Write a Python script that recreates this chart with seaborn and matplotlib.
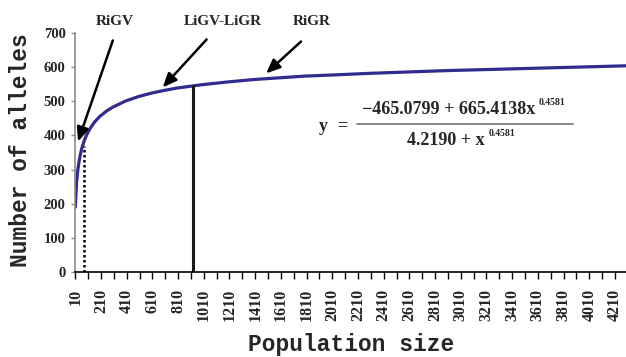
import matplotlib
matplotlib.use("Agg")
import matplotlib.pyplot as plt
import seaborn as sns
import pandas as pd
from matplotlib.ticker import FixedLocator

# Allele accumulation as population size grows
population = [10, 20, 30, 40, 50, 60, 80, 100, 130, 160, 200, 250, 300, 400, 500,
              600, 700, 800, 900, 1000, 1200, 1400, 1600, 1800, 2000, 2300, 2600,
              2900, 3200, 3500, 3800, 4100, 4296]
alleles = [190, 265, 300, 326, 345, 361, 385, 403, 423, 439, 455, 470, 482, 500, 513,
           523, 531, 538, 543, 548, 556, 563, 568, 573, 576, 581, 585, 589, 592, 595,
           598, 601, 603]

xtick_labels = list(range(10, 4211, 200))
minor_ticks = list(range(110, 4296, 200))
ytick_values = list(range(0, 701, 100))

# Marked population sizes: RiGV (dotted) and the LiGV-LiGR threshold (solid)
rigv_size, rigv_alleles = 80, 370
ligv_size, ligv_alleles = 928, 545

# Arrow annotations: label, label position, arrow tail, arrow head
labels = ["RiGV", "LiGV-LiGR", "RiGR"]
label_x = [318, 1156, 1854]
label_y = 731
arrow_tail = [(302, 677), (1032, 680), (1767, 674)]
arrow_head = [(31, 382), (690, 540), (1495, 581)]

sns.set_theme(style="white")
plt.rcParams["font.family"] = ["Liberation Serif", "DejaVu Serif"]

fig = plt.figure(figsize=(6.26, 3.57), dpi=100)
ax = fig.add_axes([0.1203, 0.2373, 1 - 0.1203, 0.9087 - 0.2373])

df = pd.DataFrame({"Population size": population, "Number of alleles": alleles})
sns.lineplot(data=df, x="Population size", y="Number of alleles", ax=ax,
             color="#312b90", linewidth=2.3)

ax.plot([rigv_size, rigv_size], [0, rigv_alleles], color="black",
        linestyle=(0, (1, 1)), linewidth=1.8)
ax.plot([ligv_size, ligv_size], [0, ligv_alleles], color="#1a1a1a", linewidth=2.2)

ax.set_xlim(10, 4296)
ax.set_ylim(0, 700)

ax.xaxis.set_major_locator(FixedLocator(xtick_labels))
ax.xaxis.set_minor_locator(FixedLocator(minor_ticks))
ax.set_xticklabels([str(v) for v in xtick_labels], rotation=90,
                   fontsize=11.5, fontweight="bold", family="Liberation Serif")
ax.set_yticks(ytick_values)
ax.set_yticklabels([str(v) for v in ytick_values], fontsize=10.5,
                   fontweight="bold", family="Liberation Serif")

ax.tick_params(axis="x", which="both", direction="out", length=5, width=1,
               color="black", bottom=True, pad=7)
ax.tick_params(axis="y", which="both", direction="out", length=3, width=1,
               color="#8a8a8a", left=True, pad=4)

for side in ["top", "right"]:
    ax.spines[side].set_visible(False)
ax.spines["left"].set_color("#8a8a8a")
ax.spines["left"].set_linewidth(1.2)
ax.spines["bottom"].set_color("black")
ax.spines["bottom"].set_linewidth(1.2)

ax.set_xlabel("Population size", family="Liberation Mono", fontweight="bold",
              fontsize=16.5)
ax.set_ylabel("Number of alleles", family="Liberation Mono", fontweight="bold",
              fontsize=16.5)
ax.xaxis.set_label_coords(0.5, -0.252)
ax.yaxis.set_label_coords(-0.078, 0.51)

for lab, lx, tail, head in zip(labels, label_x, arrow_tail, arrow_head):
    ax.text(lx, label_y, lab, ha="center", va="center", fontsize=11,
            fontweight="bold", family="Liberation Serif")
    ax.annotate("", xy=head, xytext=tail,
                arrowprops=dict(arrowstyle="-|>,head_length=0.7,head_width=0.3",
                                mutation_scale=12, color="black", lw=1.8,
                                shrinkA=0, shrinkB=0))

# Fitted curve equation
eq_kw = dict(fontsize=13, fontweight="bold", family="Liberation Serif")
sup_kw = dict(fontsize=7, fontweight="bold", family="Liberation Serif")
ax.text(1937, 427, "y", ha="center", va="center", **eq_kw)
ax.text(2087, 430, "=", ha="center", va="center", **eq_kw)
num = ax.text(3587, 474, "\u2212465.0799 + 665.4138x", ha="right", va="center", **eq_kw)
ax.annotate("0.4581", xy=(1, 0.65), xycoords=num, xytext=(3, 0),
            textcoords="offset points", ha="left", va="bottom", **sup_kw)
den = ax.text(3198, 386, "4.2190 + x", ha="right", va="center", **eq_kw)
ax.annotate("0.4581", xy=(1, 0.65), xycoords=den, xytext=(3, 0),
            textcoords="offset points", ha="left", va="bottom", **sup_kw)
ax.plot([2200, 3880], [433, 433], color="#808080", linewidth=1.3)

fig.savefig("out.png", dpi=100)
